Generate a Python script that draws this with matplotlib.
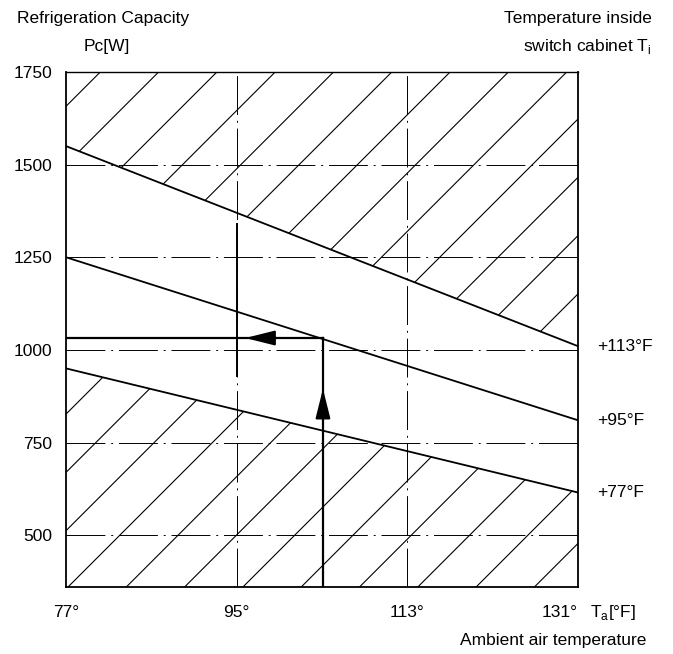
import matplotlib
matplotlib.use('Agg')
import matplotlib.pyplot as plt
from matplotlib.patches import Polygon

plt.rcParams['font.family'] = ['Liberation Sans', 'DejaVu Sans']

# ---------------- data ----------------
ambient_temp_F = [77, 131]
cap_113F = [1550, 1010]   # Ti = +113°F
cap_95F = [1250, 810]     # Ti = +95°F
cap_77F = [950, 615]      # Ti = +77°F
curve_labels = ['+113°F', '+95°F', '+77°F']

x_ticks = [77, 95, 113, 131]
x_tick_labels = ['77°', '95°', '113°', '131°']
y_ticks = [500, 750, 1000, 1250, 1500, 1750]
y_tick_labels = ['500', '750', '1000', '1250', '1500', '1750']
x_grid = [95, 113]
y_grid = [500, 750, 1000, 1250, 1500]
x_limits = [77, 131]
y_limits = [360, 1750]

# worked example
example_Ta = 104.1
example_Pc = 1032
arrow_up_Pc = [840, 895]        # base, tip
arrow_left_Ta = [99.2, 95.9]    # base, tip
marker_Ta = 95
marker_Pc = [930, 1340]         # solid reading segment at 95°F

FS = 12.5

fig = plt.figure(figsize=(6.73, 6.54), dpi=100)
W_px, H_px = 512, 515
ax = fig.add_axes([66 / 673, 1 - 587 / 654, W_px / 673, H_px / 654])
ax.set_xlim(*x_limits)
ax.set_ylim(*y_limits)

# hatched regions
def hatch_region(xs_poly, ys_poly, phase):
    poly = Polygon(list(zip(xs_poly, ys_poly)), closed=True, fill=False,
                   edgecolor='none', transform=ax.transData)
    ax.add_patch(poly)
    for k in range(-12, 12):
        c = phase + 58.3 * k
        ln, = ax.plot([c / W_px, (c + H_px) / W_px], [0, 1], transform=ax.transAxes,
                      color='black', lw=0.8, zorder=1)
        ln.set_clip_path(poly)

hatch_region([ambient_temp_F[0], ambient_temp_F[1], ambient_temp_F[1], ambient_temp_F[0]],
             [cap_113F[0], cap_113F[1], y_limits[1], y_limits[1]], 44)
hatch_region([ambient_temp_F[0], ambient_temp_F[1], ambient_temp_F[1], ambient_temp_F[0]],
             [cap_77F[0], cap_77F[1], y_limits[0], y_limits[0]], 2)

# grid lines (dash-dot)
dashdot = (0, (40, 6, 2, 6))
for yv in y_grid:
    ax.axhline(yv, color='black', lw=0.7, ls=dashdot, zorder=0.5)
for xv in x_grid:
    ax.axvline(xv, color='black', lw=0.7, ls=dashdot, zorder=0.5)

# capacity lines
for vals, lab in zip([cap_113F, cap_95F, cap_77F], curve_labels):
    ax.plot(ambient_temp_F, vals, color='black', lw=1.3, zorder=3)
    ax.annotate(lab, xy=(ambient_temp_F[1], vals[1]), xytext=(14, 0),
                textcoords='offset points', ha='left', va='center',
                fontsize=FS, annotation_clip=False)

# solid reading segment at 95°F
ax.plot([marker_Ta, marker_Ta], marker_Pc, color='black', lw=1.4, zorder=2)

# worked example path
ax.plot([example_Ta, example_Ta], [y_limits[0], example_Pc], color='black', lw=1.6, zorder=4)
ax.plot([x_limits[0], example_Ta], [example_Pc, example_Pc], color='black', lw=1.6, zorder=4)
ax.annotate('', xy=(example_Ta, arrow_up_Pc[1]), xytext=(example_Ta, arrow_up_Pc[0]),
            arrowprops=dict(arrowstyle='-|>,head_length=1.8,head_width=0.45',
                            color='black', lw=1.6, shrinkA=0, shrinkB=0), zorder=5)
ax.annotate('', xy=(arrow_left_Ta[1], example_Pc), xytext=(arrow_left_Ta[0], example_Pc),
            arrowprops=dict(arrowstyle='-|>,head_length=1.8,head_width=0.45',
                            color='black', lw=1.6, shrinkA=0, shrinkB=0), zorder=5)

# axes styling
for sp in ax.spines.values():
    sp.set_linewidth(1.3)
    sp.set_color('black')
ax.spines['top'].set_linewidth(1.0)
ax.set_xticks(x_ticks, x_tick_labels)
ax.set_yticks(y_ticks, y_tick_labels)
ax.tick_params(axis='both', length=0, labelsize=FS)
ax.tick_params(axis='y', pad=10)
ax.tick_params(axis='x', pad=13)
ax.get_xticklabels()[-1].set_horizontalalignment('right')

# titles / annotations
fig.text(17 / 673, 1 - 19 / 654, 'Refrigeration Capacity', ha='left', va='center', fontsize=FS)
fig.text(107 / 673, 1 - 46 / 654, 'Pc[W]', ha='center', va='center', fontsize=FS)
fig.text(652 / 673, 1 - 19 / 654, 'Temperature inside', ha='right', va='center', fontsize=FS)
fig.text(652 / 673, 1 - 46 / 654, r'switch cabinet T$_\mathregular{i}$', ha='right', va='center', fontsize=FS)
fig.text(590 / 673, 1 - 613 / 654, r'T$_\mathregular{a}$[°F]', ha='left', va='center', fontsize=FS)
fig.text(646 / 673, 1 - 640 / 654, 'Ambient air temperature', ha='right', va='center', fontsize=FS)

fig.savefig('out.png', dpi=100)
